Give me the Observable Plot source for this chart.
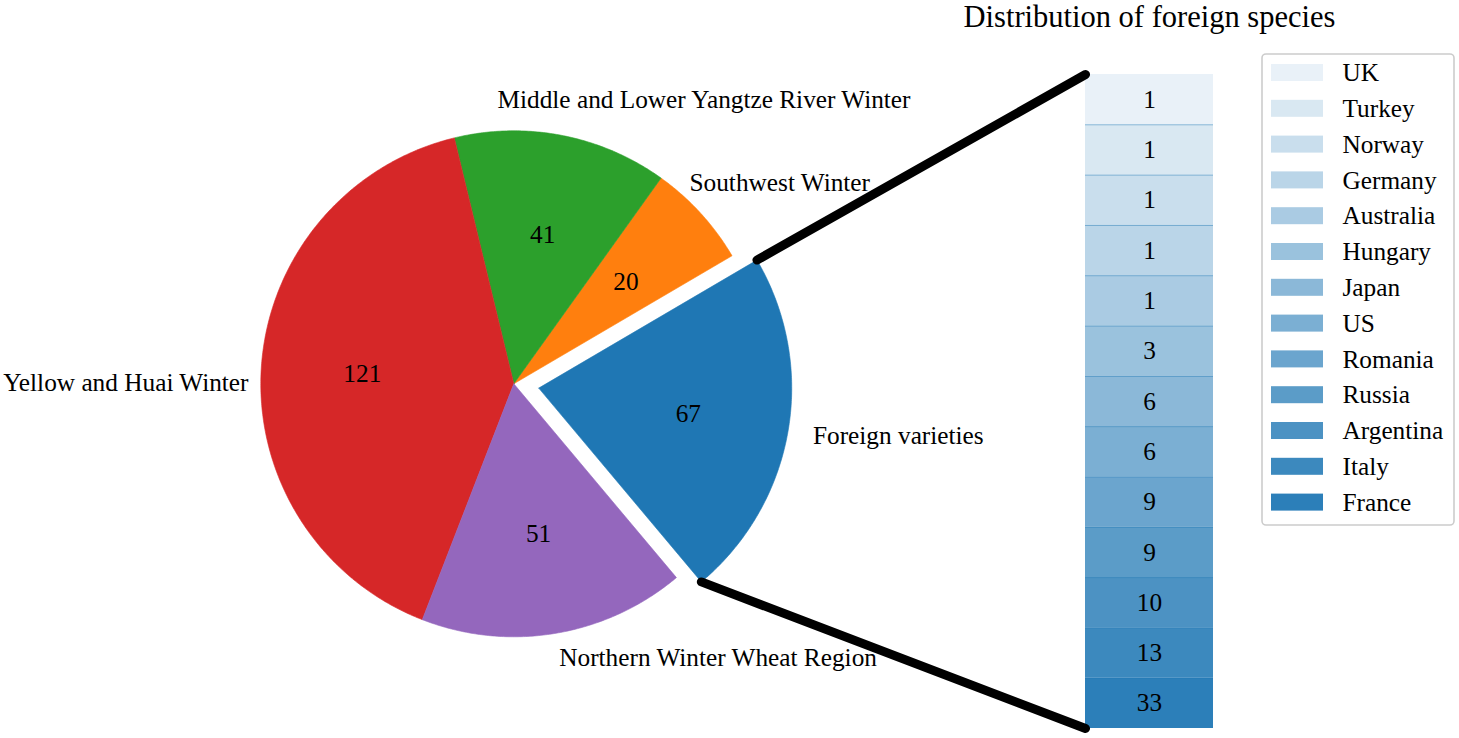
<!DOCTYPE html>
<html>
<head>
<meta charset="utf-8">
<script src="https://cdn.jsdelivr.net/npm/d3@7"></script>
<script src="https://cdn.jsdelivr.net/npm/@observablehq/plot@0.6"></script>
<style>
  html, body { margin: 0; padding: 0; background: #fff; }
  #chart { width: 1459px; height: 738px; }
</style>
</head>
<body>
<div id="chart"></div>
<script>
// ---------------- data ----------------
const regions = ["Foreign varieties", "Southwest Winter", "Middle and Lower Yangtze River Winter", "Yellow and Huai Winter", "Northern Winter Wheat Region"];
const regionCounts = [67, 20, 41, 121, 51];
const regionColors = ["#1f77b4", "#ff7f0e", "#2ca02c", "#d62728", "#9467bd"];

const countries = ["UK", "Turkey", "Norway", "Germany", "Australia", "Hungary", "Japan", "US", "Romania", "Russia", "Argentina", "Italy", "France"];
const countryCounts = [1, 1, 1, 1, 1, 3, 6, 6, 9, 9, 10, 13, 33];

const barTitle = "Distribution of foreign species";

// ---------------- layout ----------------
const W = 1459, H = 738;
const CX = 513.3, CY = 383.3, R = 253;          // pie centre and radius (px)
const START = -50;                               // start angle (deg, ccw)
const explode = [0.1, 0, 0, 0, 0];
const PCT_DIST = 0.6, LABEL_DIST = 1.1;
const BAR = {x0: 1085, x1: 1213, y0: 74, y1: 728};
const LEG = {x0: 1262, x1: 1454, y0: 54, y1: 525, swX0: 1271, swX1: 1323, swTop: 64, swH: 17, step: 35.8, textX: 1342};
// manual label anchors (pie units) for labels the original moved
const labelOverride = {
  "Southwest Winter": {x: 0.6945, y: 0.794, anchor: "start"},
  "Middle and Lower Yangtze River Winter": {x: -0.0644, y: 1.121, anchor: "start"},
  "Yellow and Huai Winter": {x: -1.0486, y: 0.0036, anchor: "end"}
};
const FS = 25.3;

const ux = px => (px - CX) / R;
const uy = py => (CY - py) / R;
const rad = d => d * Math.PI / 180;

// ---------------- pie geometry ----------------
const total = d3.sum(regionCounts);
let acc = START;
const wedges = regions.map((name, i) => {
  const span = regionCounts[i] / total * 360;
  const t1 = acc, t2 = acc + span; acc = t2;
  const mid = rad((t1 + t2) / 2);
  const cx = explode[i] * Math.cos(mid), cy = explode[i] * Math.sin(mid);
  return {name, value: regionCounts[i], color: regionColors[i], t1, t2, mid, cx, cy};
});
function outline(w) {
  const pts = [{x: w.cx, y: w.cy}];
  const n = Math.ceil((w.t2 - w.t1) / 0.5);
  for (let k = 0; k <= n; k++) {
    const a = rad(w.t1 + (w.t2 - w.t1) * k / n);
    pts.push({x: w.cx + Math.cos(a), y: w.cy + Math.sin(a)});
  }
  pts.push({x: w.cx, y: w.cy});
  return pts;
}
const labels = wedges.map(w => {
  const o = labelOverride[w.name];
  if (o) return {text: w.name, x: o.x, y: o.y, anchor: o.anchor};
  const x = w.cx + LABEL_DIST * Math.cos(w.mid), y = w.cy + LABEL_DIST * Math.sin(w.mid);
  return {text: w.name, x, y, anchor: x > 0 ? "start" : "end"};
});

// ---------------- bar geometry ----------------
const segH = (BAR.y1 - BAR.y0) / countries.length;
const blend = d3.interpolateRgb("#ffffff", "#1f77b4");
const segs = countries.map((c, j) => {
  const alpha = 0.1 + 0.07 * j;
  return {country: c, value: countryCounts[j], color: blend(alpha),
          y1: uy(BAR.y0 + j * segH), y2: uy(BAR.y0 + (j + 1) * segH),
          ly1: uy(LEG.swTop + j * LEG.step), ly2: uy(LEG.swTop + j * LEG.step + LEG.swH),
          ly: uy(LEG.swTop + j * LEG.step + LEG.swH / 2)};
});

// connection lines: bar corners -> exploded wedge outer corners
const fw = wedges[0];
const links = [
  {x1: ux(BAR.x0), y1: uy(BAR.y0), x2: fw.cx + Math.cos(rad(fw.t2)), y2: fw.cy + Math.sin(rad(fw.t2))},
  {x1: ux(BAR.x0), y1: uy(BAR.y1), x2: fw.cx + Math.cos(rad(fw.t1)), y2: fw.cy + Math.sin(rad(fw.t1))}
];

// ---------------- marks ----------------
const marks = [];
wedges.forEach(w => {
  marks.push(Plot.line(outline(w), {x: "x", y: "y", fill: w.color, stroke: w.color, strokeWidth: 0.6, curve: "linear"}));
});
marks.push(Plot.text(wedges, {
  x: w => w.cx + PCT_DIST * Math.cos(w.mid), y: w => w.cy + PCT_DIST * Math.sin(w.mid),
  text: w => String(w.value), fontSize: FS, fill: "black"
}));
marks.push(Plot.text(labels.filter(d => d.anchor === "start"), {x: "x", y: "y", text: "text", textAnchor: "start", fontSize: FS, fill: "black"}));
marks.push(Plot.text(labels.filter(d => d.anchor === "end"), {x: "x", y: "y", text: "text", textAnchor: "end", fontSize: FS, fill: "black"}));

// stacked bar
marks.push(Plot.rect(segs, {x1: () => ux(BAR.x0), x2: () => ux(BAR.x1), y1: "y1", y2: "y2", fill: "color"}));
marks.push(Plot.ruleY(segs.slice(1), {y: "y1", x1: () => ux(BAR.x0), x2: () => ux(BAR.x1), stroke: "#1f77b4", strokeOpacity: 0.45, strokeWidth: 1}));
marks.push(Plot.text(segs, {x: () => ux((BAR.x0 + BAR.x1) / 2), y: d => (d.y1 + d.y2) / 2, text: d => String(d.value), fontSize: FS, fill: "black"}));
marks.push(Plot.text([barTitle], {x: () => ux((BAR.x0 + BAR.x1) / 2), y: () => uy(26.5), text: d => d, lineAnchor: "bottom", fontSize: 30.5, fill: "black"}));

// connection lines
marks.push(Plot.link(links, {x1: "x1", y1: "y1", x2: "x2", y2: "y2", stroke: "black", strokeWidth: 9, strokeLinecap: "round"}));

// legend
marks.push(Plot.rect([0], {x1: () => ux(LEG.x0), x2: () => ux(LEG.x1), y1: () => uy(LEG.y0), y2: () => uy(LEG.y1), fill: "white", stroke: "#cccccc", strokeWidth: 1.6, rx: 4}));
marks.push(Plot.rect(segs, {x1: () => ux(LEG.swX0), x2: () => ux(LEG.swX1), y1: "ly1", y2: "ly2", fill: "color"}));
marks.push(Plot.text(segs, {x: () => ux(LEG.textX), y: "ly", text: "country", textAnchor: "start", fontSize: FS, fill: "black"}));

const chart = Plot.plot({
  width: W, height: H,
  marginLeft: 0, marginRight: 0, marginTop: 0, marginBottom: 0,
  x: {domain: [ux(0), ux(W)], axis: null},
  y: {domain: [uy(H), uy(0)], axis: null},
  color: {type: "identity"},
  style: {fontFamily: '"Liberation Serif", "Times New Roman", serif', fontSize: FS + "px", background: "white", color: "black", overflow: "visible"},
  marks
});
document.getElementById("chart").appendChild(chart);
</script>
</body>
</html>
